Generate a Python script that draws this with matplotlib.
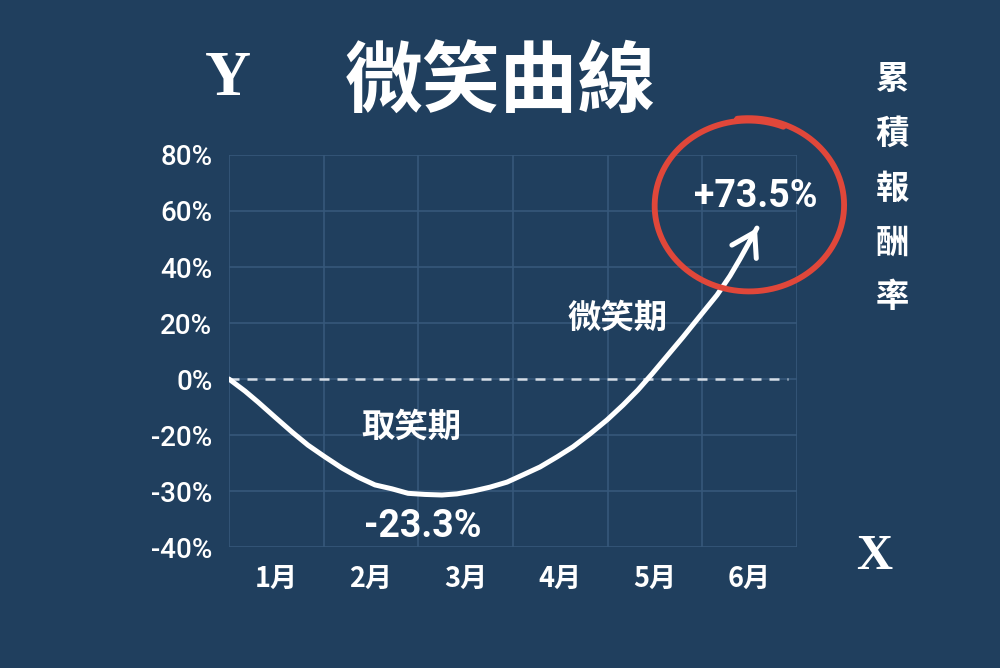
import numpy as np
import matplotlib
matplotlib.use('Agg')
import matplotlib.pyplot as plt

plt.rcParams['font.family'] = ['Noto Sans CJK TC', 'DejaVu Sans']

# data
months = ['1月', '2月', '3月', '4月', '5月', '6月']
y_ticks = [80, 60, 40, 20, 0, -20, -30, -40]
curve_x = [0.000, 0.169, 0.306, 0.486, 0.665, 0.834, 1.014, 1.194, 1.363,
           1.542, 1.722, 1.891, 2.070, 2.250, 2.408, 2.577, 2.757, 2.937,
           3.106, 3.285, 3.465, 3.634, 3.813, 3.993, 4.162, 4.320, 4.468,
           4.627, 4.796, 4.975, 5.155, 5.292, 5.398, 5.503, 5.577]
curve_y = [0.0, -4.3, -8.2, -13.6, -18.9, -21.8, -23.9, -25.9, -27.5,
           -28.9, -29.6, -30.4, -30.6, -30.7, -30.5, -30.0, -29.3, -28.4,
           -27.1, -25.7, -23.9, -22.1, -19.6, -14.6, -9.3, -3.9, 1.8,
           8.2, 15.0, 22.5, 30.0, 36.8, 42.9, 49.3, 53.9]
low_label = '-23.3%'
high_label = '+73.5%'
title = '微笑曲線'
side_label = '累積報酬率'

bg = '#203f5e'
grid_c = '#36587a'
red = '#e0473a'


# the y axis is uneven: 20% per step above -20%, 10% per step below
def fwd(v):
    v = np.asarray(v, dtype=float)
    return np.where(v >= -20, v / 20.0, -1 + (v + 20) / 10.0)


def inv(p):
    p = np.asarray(p, dtype=float)
    return np.where(p >= -1, p * 20.0, -20 + (p + 1) * 10.0)


fig = plt.figure(figsize=(10, 6.68), dpi=100, facecolor=bg)
ax = fig.add_axes([0.229, 0.181, 0.568, 0.587], facecolor=bg)
ax.set_yscale('function', functions=(fwd, inv))
ax.set_xlim(0, 6)
ax.set_ylim(-40, 80)

for s in ax.spines.values():
    s.set_visible(False)

ax.set_xticks(range(7))
ax.set_xticklabels([])
ax.set_xticks(np.arange(len(months)) + 0.5, minor=True)
ax.set_xticklabels(months, minor=True, color='white', fontsize=19.5,
                   fontweight='bold')
ax.set_yticks(y_ticks)
ax.set_yticklabels([f'{v}%' for v in y_ticks], color='white', fontsize=20,
                   family=['Roboto', 'DejaVu Sans'], fontweight='medium')
ax.tick_params(which='both', length=0)
ax.tick_params(axis='y', pad=12)
ax.tick_params(axis='x', which='minor', pad=13)
ax.grid(True, which='major', color=grid_c, lw=1.2)
ax.set_axisbelow(True)

ax.axhline(0, xmin=0, xmax=0.985, color='#d5dde6', lw=1.8, dashes=(4, 3.2))

# smile curve with arrow head
ax.plot(curve_x, curve_y, color='white', lw=3.6, solid_capstyle='round',
        solid_joinstyle='round', zorder=4)
ax.annotate('', xy=(curve_x[-1], curve_y[-1]),
            xytext=(curve_x[-2], curve_y[-2]),
            arrowprops=dict(arrowstyle='->,head_length=0.8,head_width=0.5',
                            color='white', lw=3.6, shrinkA=0, shrinkB=0,
                            mutation_scale=20),
            zorder=5)

# hand-drawn red loop round the final value
cx, cy, rx, ry = 5.49, 62.0, 1.0, 30.7
t = np.linspace(np.pi / 2 + 0.12, np.pi / 2 + 0.12 - 2 * np.pi - 0.5, 400)
r = np.linspace(1.015, 0.985, t.size)
ax.plot(cx + rx * r * np.cos(t), cy + ry * r * np.sin(t), color=red, lw=4.2,
        solid_capstyle='round', clip_on=False, zorder=6)

ax.text(5.56, 65, high_label, ha='center', va='center', color='white',
        fontsize=27, fontweight='bold', family=['Roboto', 'DejaVu Sans'],
        zorder=7)
ax.text(2.05, -36.4, low_label, ha='center', va='center', color='white',
        fontsize=27, fontweight='bold', family=['Roboto', 'DejaVu Sans'],
        zorder=7, clip_on=False)
ax.text(1.93, -17.1, '取笑期', ha='center', va='center', color='white',
        fontsize=24, fontweight='bold', zorder=7)
ax.text(4.10, 21.8, '微笑期', ha='center', va='center', color='white',
        fontsize=24, fontweight='bold', zorder=7)

fig.text(0.5, 1 - 84 / 668, title, ha='center', va='center', color='white',
         fontsize=56, fontweight='bold')
fig.text(0.228, 1 - 80 / 668, 'Y', ha='center', va='center', color='white',
         fontsize=46, fontweight='bold', family='Liberation Serif')
fig.text(0.874, 1 - 557 / 668, 'X', ha='center', va='center', color='white',
         fontsize=36, fontweight='bold', family='Liberation Serif')
for i, ch in enumerate(side_label):
    fig.text(0.892, 1 - (80 + 54.5 * i) / 668, ch, ha='center', va='center',
             color='white', fontsize=24, fontweight='bold')

fig.savefig('out.png', dpi=100, facecolor=bg)
